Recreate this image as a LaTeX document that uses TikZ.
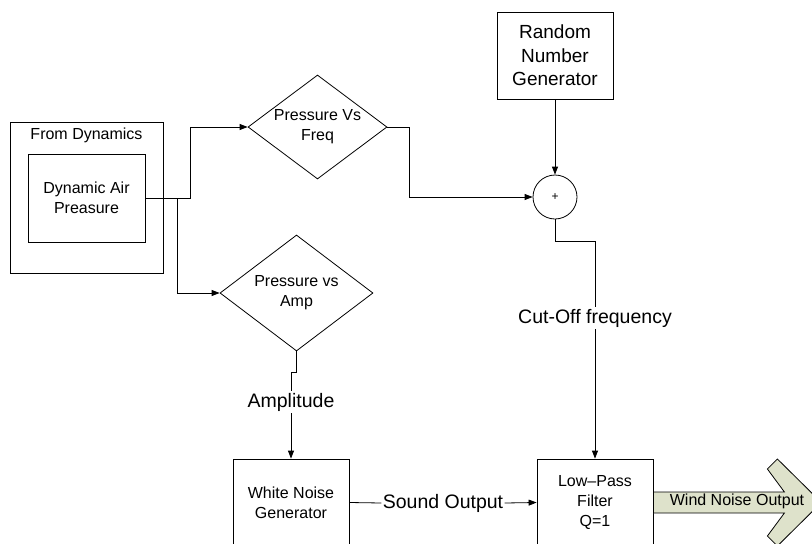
\documentclass[tikz,border=0pt]{standalone}
\usepackage{fontspec}
\setmainfont{Liberation Sans}
\usetikzlibrary{arrows.meta, positioning, shapes, calc}
\definecolor{windfill}{RGB}{222,226,203}

\begin{document}
\begin{tikzpicture}[x=1pt, y=-1pt, line width=0.8pt,
    box/.style={draw, minimum width=116pt, minimum height=87pt, align=center, inner sep=0pt, font=\fontsize{16}{20}\selectfont},
    decision/.style={draw, diamond, aspect=1.33, inner sep=0pt, align=center, font=\fontsize{16}{20}\selectfont},
    lbl/.style={font=\fontsize{19.5}{23}\selectfont, inner sep=2pt},
    arr/.style={-{Triangle[length=8pt,width=6pt]}}]
    \useasboundingbox (0,0) rectangle (812,544);
    \clip (0,0) rectangle (812,544);
    % blocks
    \node[draw, minimum width=153pt, minimum height=151pt] (dyn) at (86.5,197.5) {};
    \node[font=\fontsize{16}{20}\selectfont] (dyntitle) at (86.5,135) {From Dynamics};
    \node[box, minimum width=117pt, minimum height=88pt] (dap) at (86.5,198) {Dynamic Air\\Preasure};
    \node[decision, minimum width=139pt, minimum height=104pt] (freq) at (317.5,127) {Pressure Vs\\Freq};
    \node[decision, minimum width=153pt, minimum height=116pt] (amp) at (296.5,293) {Pressure vs\\Amp};
    \node[box, font=\fontsize{19}{23.5}\selectfont] (rng) at (555,55.5) {Random\\Number\\Generator};
    \node[draw, circle, minimum size=44pt, inner sep=0pt, font=\fontsize{12}{12}\selectfont] (sum) at (555,197) {+};
    \node[box] (wn) at (291,502.5) {White Noise\\Generator};
    \node[box] (lpf) at (595,502.5) {Low–Pass\\Filter\\Q=1};
    % labels on the lines
    \node[lbl] (ampl) at (291,402) {Amplitude};
    \node[lbl] (cutoff) at (595,318) {Cut-Off frequency};
    \node[lbl, inner sep=1pt] (sound) at (443,503) {Sound Output};
    % connectors
    \draw[arr] (dap.east) -- ++(45,0) |- (freq.west);
    \draw[arr] ([xshift=32pt]dap.east) |- (amp.west);
    \draw[arr] (freq.east) -- ++(22,0) |- (sum.west);
    \draw[arr] (rng.south) -- (sum.north);
    \draw (sum.south) -- ++(0,22) -| (cutoff.north);
    \draw[arr] (cutoff.south) -- (lpf.north);
    \draw (amp.south) -- ++(0,21) -| (ampl.north);
    \draw[arr] (ampl.south) -- (wn.north);
    \draw (wn.east) -- (sound.west);
    \draw[arr] (sound.east) -- (lpf.west);
    % output arrow
    \draw[fill=windfill] ([yshift=10.5pt]lpf.east) -- ++(131,0) -- ++(-17,-23) -- ++(10,-10)
        -- ++(44,43.5) -- ++(-44,43.5) -- ++(-10,-10) -- ++(17,-23) -- ++(-131,0) -- cycle;
    \node[font=\fontsize{16}{20}\selectfont] (windlbl) at (737,501) {Wind Noise Output};
\end{tikzpicture}
\end{document}
